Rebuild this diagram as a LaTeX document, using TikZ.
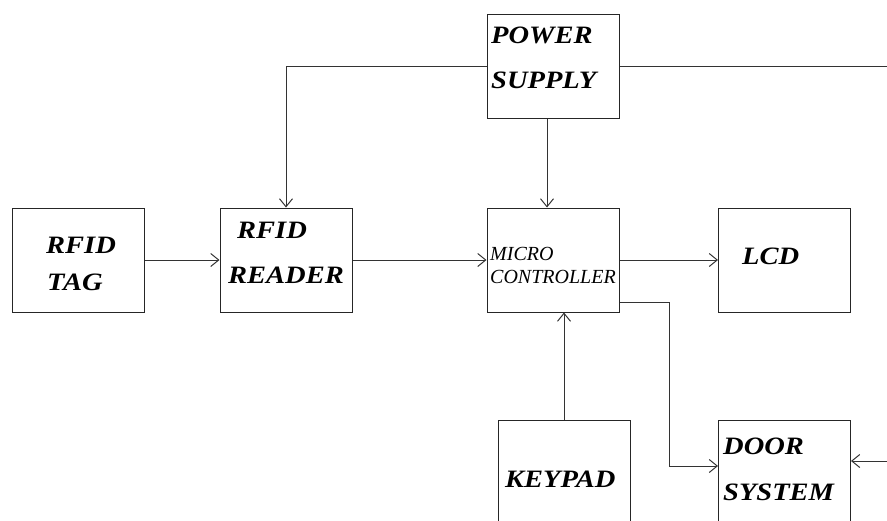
\documentclass[tikz,border=0pt]{standalone}
\usepackage{fontspec}
\setmainfont{Liberation Serif}
\newfontfamily\widefont[FakeStretch=1.14]{Liberation Serif}
\usetikzlibrary{arrows.meta,calc}

\tikzset{
  blk/.style={draw=black!85, line width=1pt, rectangle, inner sep=0pt,
              minimum width=132pt, minimum height=104pt},
  tall/.style={blk, minimum height=140pt},
  lbl/.style={anchor=base west, inner sep=0pt, font=\widefont\bfseries\itshape\fontsize{25}{29}\selectfont},
  small/.style={anchor=base west, inner sep=0pt, font=\itshape\fontsize{20}{24}\selectfont},
  wire/.style={draw=black!80, line width=1pt},
  arr/.style={wire, -{Straight Barb[length=8pt,width=13pt,line width=1pt]}},
}

\begin{document}
\begin{tikzpicture}[x=1pt,y=-1pt]
  \useasboundingbox (0,0) rectangle (887,520);
  \clip (0,0) rectangle (887,520);

  % blocks
  \node[blk]  (power)  at (553,66.5) {};
  \node[blk]  (tag)    at (78.5,260) {};
  \node[blk]  (reader) at (286,260) {};
  \node[blk]  (micro)  at (553,260) {};
  \node[blk]  (lcd)    at (784.5,260) {};
  \node[tall] (keypad) at (564,490) {};
  \node[tall] (door)   at (784.5,490) {};

  % block texts
  \node[lbl]   (powert1)  at (491,43)  {POWER};
  \node[lbl]   (powert2)  at (491,88)  {SUPPLY};
  \node[lbl]   (tagt1)    at (46,253)  {RFID};
  \node[lbl]   (tagt2)    at (47,290)  {TAG};
  \node[lbl]   (readert1) at (237,238) {RFID};
  \node[lbl]   (readert2) at (228,283) {READER};
  \node[small] (microt1)  at (490,260) {MICRO};
  \node[small] (microt2)  at (490,283) {CONTROLLER};
  \node[lbl]   (lcdt)     at (742,264) {LCD};
  \node[lbl]   (keypadt)  at (505,487) {KEYPAD};
  \node[lbl]   (doort1)   at (723,454) {DOOR};
  \node[lbl]   (doort2)   at (723,500) {SYSTEM};

  % free ends at the edge
  \coordinate (pwrend) at (887,66.5);
  \coordinate (bend)   at (669,466);
  \coordinate (doorin) at (887,461);

  % connectors
  \draw[arr] (tag) -- (reader);
  \draw[arr] (reader) -- (micro);
  \draw[arr] (micro) -- (lcd);
  \draw[arr] (power.west) -| (reader.north);
  \draw[wire] (power.east) -- (pwrend);
  \draw[arr] ([xshift=-6pt]power.south) -- ([xshift=-6pt]micro.north);
  \draw[arr] (keypad.north) -- (keypad.north |- micro.south);
  \draw[arr] ([yshift=10pt]micro.south east) -| (bend) -- (bend -| door.west);
  \draw[arr] (doorin) -- (doorin -| door.east);
\end{tikzpicture}
\end{document}
